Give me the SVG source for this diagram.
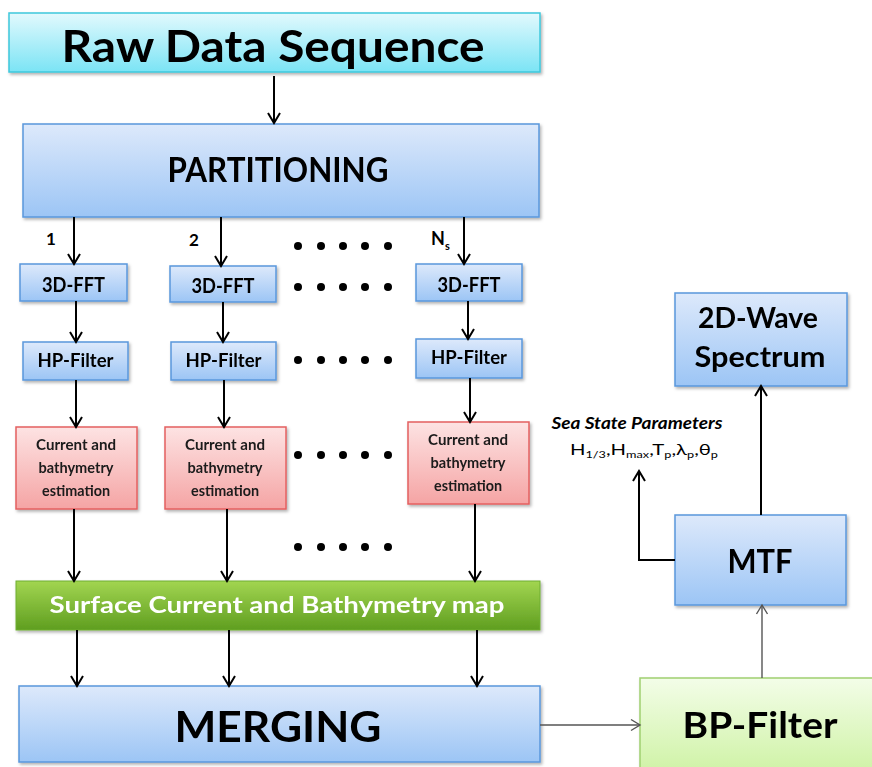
<svg xmlns="http://www.w3.org/2000/svg" width="872" height="767" viewBox="0 0 872 767">
<style>
text{font-family:Lato,"Open Sans","Liberation Sans",sans-serif;font-weight:bold;fill:#000;}
.c{text-anchor:middle;}
.est{font-size:15px;fill:#1a1a1a;}
.box{filter:url(#sh);}
.blue{fill:url(#gBlue);stroke:#5a97dc;stroke-width:1.5;}
.red{fill:url(#gRed);stroke:#e46060;stroke-width:1.5;}
.conn path.a{fill:none;stroke:#000;stroke-width:2;marker-end:url(#ah);}
.conn path.t{fill:none;stroke:#555;stroke-width:1.4;marker-end:url(#aht);}
.dot{fill:#000;}
</style>
<defs>
<linearGradient id="gCyan" x1="0" y1="0" x2="0" y2="1"><stop offset="0" stop-color="#e2f9fd"/><stop offset="1" stop-color="#7be4f5"/></linearGradient>
<linearGradient id="gBlue" x1="0" y1="0" x2="0" y2="1"><stop offset="0" stop-color="#dde9fb"/><stop offset="1" stop-color="#9cc5f5"/></linearGradient>
<linearGradient id="gRed" x1="0" y1="0" x2="0" y2="1"><stop offset="0" stop-color="#fde3e3"/><stop offset="1" stop-color="#f5a4a4"/></linearGradient>
<linearGradient id="gGreen" x1="0" y1="0" x2="0" y2="1"><stop offset="0" stop-color="#a2d550"/><stop offset="1" stop-color="#5f9e20"/></linearGradient>
<linearGradient id="gLime" x1="0" y1="0" x2="0" y2="1"><stop offset="0" stop-color="#f3fde8"/><stop offset="1" stop-color="#cdf2a2"/></linearGradient>
<filter id="sh" x="-5%" y="-10%" width="115%" height="130%"><feDropShadow dx="1.5" dy="2" stdDeviation="1.5" flood-color="#000" flood-opacity="0.3"/></filter>
<marker id="ah" viewBox="0 0 14 14" refX="12" refY="7" markerWidth="14" markerHeight="14" markerUnits="userSpaceOnUse" orient="auto"><path d="M2,1 L12,7 L2,13" fill="none" stroke="#000" stroke-width="2"/></marker>
<marker id="aht" viewBox="0 0 14 14" refX="12" refY="7" markerWidth="14" markerHeight="14" markerUnits="userSpaceOnUse" orient="auto"><path d="M3,1.5 L12,7 L3,12.5" fill="none" stroke="#555" stroke-width="1.4"/></marker>
</defs>
<rect width="872" height="767" fill="#fff"/>

<g id="raw" class="box"><rect x="9" y="13" width="531" height="59" fill="url(#gCyan)" stroke="#3ec8dc" stroke-width="1.5"/><text class="c" x="273" y="62" font-size="44" textLength="423" lengthAdjust="spacingAndGlyphs">Raw Data Sequence</text></g>
<g id="partitioning" class="box"><rect x="23" y="124" width="516" height="93" class="blue"/><text class="c" x="278" y="182" font-size="35" textLength="221" lengthAdjust="spacingAndGlyphs">PARTITIONING</text></g>

<g id="labels">
<text x="46" y="245" font-size="17">1</text>
<text x="189" y="246" font-size="17">2</text>
<text x="431" y="245" font-size="18">N<tspan font-size="11" dy="5">s</tspan></text>
</g>

<g id="fft1" class="box"><rect x="20" y="264" width="107" height="37" class="blue"/><text class="c" x="73.5" y="292" font-size="20" textLength="63" lengthAdjust="spacingAndGlyphs">3D-FFT</text></g>
<g id="fft2" class="box"><rect x="170" y="266" width="106" height="36" class="blue"/><text class="c" x="223" y="293" font-size="20" textLength="63" lengthAdjust="spacingAndGlyphs">3D-FFT</text></g>
<g id="fftN" class="box"><rect x="416" y="264" width="106" height="37" class="blue"/><text class="c" x="469" y="292" font-size="20" textLength="63" lengthAdjust="spacingAndGlyphs">3D-FFT</text></g>

<g id="hp1" class="box"><rect x="23" y="342" width="105" height="38" class="blue"/><text class="c" x="75.5" y="367" font-size="19" textLength="76" lengthAdjust="spacingAndGlyphs">HP-Filter</text></g>
<g id="hp2" class="box"><rect x="171" y="342" width="105" height="38" class="blue"/><text class="c" x="223.5" y="367" font-size="19" textLength="76" lengthAdjust="spacingAndGlyphs">HP-Filter</text></g>
<g id="hpN" class="box"><rect x="416" y="339" width="106" height="39" class="blue"/><text class="c" x="469" y="364" font-size="19" textLength="76" lengthAdjust="spacingAndGlyphs">HP-Filter</text></g>

<g id="est1" class="box"><rect x="16" y="427" width="121" height="82" class="red"/>
<text class="c est" x="76" y="450" textLength="80" lengthAdjust="spacingAndGlyphs">Current  and</text>
<text class="c est" x="76" y="473" textLength="75" lengthAdjust="spacingAndGlyphs">bathymetry</text>
<text class="c est" x="76" y="496" textLength="68" lengthAdjust="spacingAndGlyphs">estimation</text></g>
<g id="est2" class="box"><rect x="165" y="427" width="121" height="82" class="red"/>
<text class="c est" x="225" y="450" textLength="80" lengthAdjust="spacingAndGlyphs">Current  and</text>
<text class="c est" x="225" y="473" textLength="75" lengthAdjust="spacingAndGlyphs">bathymetry</text>
<text class="c est" x="225" y="496" textLength="68" lengthAdjust="spacingAndGlyphs">estimation</text></g>
<g id="estN" class="box"><rect x="408" y="422" width="121" height="82" class="red"/>
<text class="c est" x="468" y="445" textLength="80" lengthAdjust="spacingAndGlyphs">Current  and</text>
<text class="c est" x="468" y="468" textLength="75" lengthAdjust="spacingAndGlyphs">bathymetry</text>
<text class="c est" x="468" y="491" textLength="68" lengthAdjust="spacingAndGlyphs">estimation</text></g>

<g id="dots">
<circle class="dot" cx="298" cy="246" r="4"/><circle class="dot" cx="321" cy="246" r="4"/><circle class="dot" cx="343" cy="246" r="4"/><circle class="dot" cx="365" cy="246" r="4"/><circle class="dot" cx="388" cy="246" r="4"/>
<circle class="dot" cx="298" cy="287" r="4"/><circle class="dot" cx="321" cy="287" r="4"/><circle class="dot" cx="343" cy="287" r="4"/><circle class="dot" cx="365" cy="287" r="4"/><circle class="dot" cx="388" cy="287" r="4"/>
<circle class="dot" cx="298" cy="360" r="4"/><circle class="dot" cx="321" cy="360" r="4"/><circle class="dot" cx="343" cy="360" r="4"/><circle class="dot" cx="365" cy="360" r="4"/><circle class="dot" cx="388" cy="360" r="4"/>
<circle class="dot" cx="298" cy="455" r="4"/><circle class="dot" cx="321" cy="455" r="4"/><circle class="dot" cx="343" cy="455" r="4"/><circle class="dot" cx="365" cy="455" r="4"/><circle class="dot" cx="388" cy="455" r="4"/>
<circle class="dot" cx="298" cy="547" r="4"/><circle class="dot" cx="321" cy="547" r="4"/><circle class="dot" cx="343" cy="547" r="4"/><circle class="dot" cx="365" cy="547" r="4"/><circle class="dot" cx="388" cy="547" r="4"/>
</g>

<g id="map" class="box"><rect x="16" y="581" width="524" height="49" fill="url(#gGreen)" stroke="#6fae30" stroke-width="1"/><text class="c" x="277" y="613" font-size="22" textLength="455" lengthAdjust="spacingAndGlyphs" style="fill:#fff">Surface Current and Bathymetry map</text></g>

<g id="merging" class="box"><rect x="19" y="686" width="521" height="76" class="blue"/><text class="c" x="278" y="742" font-size="42" textLength="207" lengthAdjust="spacingAndGlyphs">MERGING</text></g>

<g id="bpfilter" class="box"><rect x="640" y="678" width="240" height="100" fill="url(#gLime)" stroke="#a0d070" stroke-width="1.5"/><text class="c" x="760" y="738" font-size="36" textLength="155" lengthAdjust="spacingAndGlyphs">BP-Filter</text></g>

<g id="mtf" class="box"><rect x="675" y="515" width="171" height="90" class="blue"/><text class="c" x="760" y="573" font-size="33" textLength="65" lengthAdjust="spacingAndGlyphs">MTF</text></g>

<g id="wave" class="box"><rect x="675" y="293" width="172" height="93" class="blue"/>
<text class="c" x="758" y="328" font-size="28" textLength="120" lengthAdjust="spacingAndGlyphs">2D-Wave</text>
<text class="c" x="760" y="367" font-size="28" textLength="131" lengthAdjust="spacingAndGlyphs">Spectrum</text></g>

<g id="seastate">
<text class="c" x="637" y="429" font-size="17" font-style="italic" textLength="171" lengthAdjust="spacingAndGlyphs">Sea State Parameters</text>
<text x="570" y="455" font-size="16" style="font-weight:normal" textLength="148" lengthAdjust="spacingAndGlyphs">H<tspan font-size="10" dy="3">1/3</tspan><tspan dy="-3">,H</tspan><tspan font-size="10" dy="3">max</tspan><tspan dy="-3">,T</tspan><tspan font-size="10" dy="3">p</tspan><tspan dy="-3">,λ</tspan><tspan font-size="10" dy="3">p</tspan><tspan dy="-3">,θ</tspan><tspan font-size="10" dy="3">p</tspan></text>
</g>

<g id="connectors" class="conn">
<path class="a" d="M274,76 V123"/>
<path class="a" d="M74,217 V264"/>
<path class="a" d="M221,217 V266"/>
<path class="a" d="M464,217 V264"/>
<path class="a" d="M76,301 V342"/>
<path class="a" d="M223,302 V342"/>
<path class="a" d="M468,301 V339"/>
<path class="a" d="M76,380 V427"/>
<path class="a" d="M224,380 V427"/>
<path class="a" d="M470,378 V422"/>
<path class="a" d="M74,509 V581"/>
<path class="a" d="M227,509 V581"/>
<path class="a" d="M475,504 V581"/>
<path class="a" d="M77,630 V686"/>
<path class="a" d="M229,630 V686"/>
<path class="a" d="M477,630 V686"/>
<path class="t" d="M540,725 H640"/>
<path class="t" d="M762,678 V605"/>
<path class="a" d="M761,515 V386"/>
<path class="a" d="M675,560 H639 V471"/>
</g>
</svg>
